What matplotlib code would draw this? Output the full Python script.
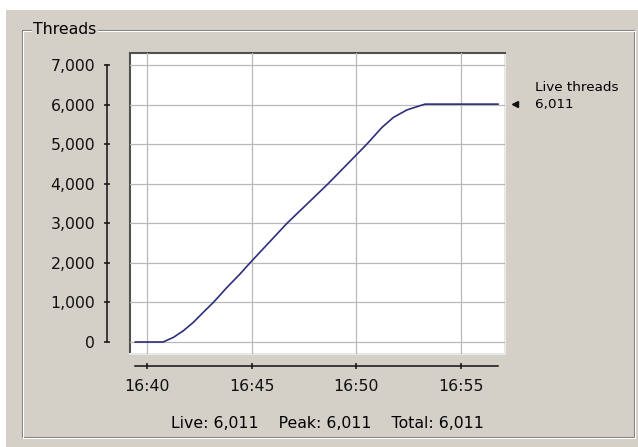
import matplotlib
matplotlib.use("Agg")
import matplotlib.pyplot as plt
import matplotlib.dates as mdates
import matplotlib.transforms as mtransforms
from matplotlib.patches import Rectangle
import pandas as pd

times = ["16:39:26", "16:40:46", "16:41:16", "16:41:44", "16:42:13", "16:42:41",
         "16:43:10", "16:43:49", "16:44:26", "16:44:55", "16:46:41", "16:48:39",
         "16:50:30", "16:51:13", "16:51:46", "16:52:25", "16:53:02", "16:53:17",
         "16:56:46"]
live_threads = [0, 0, 120, 285, 500, 750,
                1000, 1380, 1715, 2000, 3000, 4000,
                5000, 5420, 5675, 5865, 5970, 6011,
                6011]
y_ticks = [0, 1000, 2000, 3000, 4000, 5000, 6000, 7000]
title = "Threads"
live, peak, total = 6011, 6011, 6011

W, H = 638, 447
bg = "#d4d0c8"

t = mdates.date2num(pd.to_datetime(times, format="%H:%M:%S"))

fig = plt.figure(figsize=(W / 100, H / 100), dpi=100, facecolor=bg)
plt.rcParams["font.family"] = "DejaVu Sans"


def px(x0, y0, x1, y1):
    # pixel box (top-left origin) -> figure fraction rect
    return [x0 / W, 1 - y1 / H, (x1 - x0) / W, (y1 - y0) / H]


# white strips at top / left edge of the screenshot
fig.add_artist(Rectangle((0, 1 - 10 / H), 1, 10 / H, transform=fig.transFigure,
                         facecolor="white", edgecolor="none"))
fig.add_artist(Rectangle((0, 0), 6 / W, 1, transform=fig.transFigure,
                         facecolor="white", edgecolor="none"))

# etched group box
for off, col in [(0, "#808080"), (1, "white")]:
    r = px(22 + off, 30 + off, 634 + off, 437 + off)
    fig.add_artist(Rectangle((r[0], r[1]), r[2], r[3], transform=fig.transFigure,
                             facecolor="none", edgecolor=col, lw=0.8))
fig.text(33 / W, 1 - 30 / H, title, fontsize=11.3, va="center", ha="left",
         bbox=dict(facecolor=bg, edgecolor="none", pad=1.0))

pos = px(130, 53, 505, 354)

# sunken white frame
frame = fig.add_axes(pos, facecolor="white", zorder=0)
frame.set_xticks([])
frame.set_yticks([])
for side, col in [("top", "#505050"), ("left", "#505050"),
                  ("right", "#e8e8e8"), ("bottom", "#e8e8e8")]:
    frame.spines[side].set_color(col)
    frame.spines[side].set_linewidth(1.5)

ax = fig.add_axes(pos, zorder=1)
ax.patch.set_alpha(0)
ax.plot(t, live_threads, color="#2e2e7a", lw=1.2, zorder=3)

x_lo, x_hi = mdates.date2num(pd.to_datetime(["16:39:11", "16:57:06"], format="%H:%M:%S"))
ax.set_xlim(x_lo, x_hi)
ax.set_ylim(-303, 7303)
ax.set_yticks(y_ticks)
ax.yaxis.set_major_formatter(plt.FuncFormatter(lambda v, p: f"{int(v):,}"))
ax.xaxis.set_major_locator(mdates.MinuteLocator(byminute=[40, 45, 50, 55]))
ax.xaxis.set_major_formatter(mdates.DateFormatter("%H:%M"))
ax.grid(True, color="#b8b8b8", lw=0.9)
ax.set_axisbelow(True)

ax.spines["top"].set_visible(False)
ax.spines["right"].set_visible(False)
ax.spines["left"].set_position(("outward", 16.5))
ax.spines["bottom"].set_position(("outward", 8.6))
ax.spines["left"].set_bounds(0, 7000)
ax.spines["bottom"].set_bounds(t[0], t[-1])
for s in ["left", "bottom"]:
    ax.spines[s].set_linewidth(1.1)
    ax.spines[s].set_color("#111111")
ax.tick_params(axis="both", direction="inout", length=5, width=1.1,
               labelsize=11.3, colors="#111111")
ax.tick_params(axis="y", pad=6)
ax.tick_params(axis="x", pad=7)

# live value marker on the right
trans = mtransforms.blended_transform_factory(ax.transAxes, ax.transData)
ax.plot([1.0267], [live], marker="<", color="#111111", ms=4.5, transform=trans,
        clip_on=False, ls="none")
ax.text(1.08, live, f"{live:,}", transform=trans, fontsize=9.7, va="center",
        ha="left")
ax.annotate("Live threads", xy=(1.08, live), xycoords=trans,
            xytext=(0, 12.2), textcoords="offset points", fontsize=9.7,
            va="center", ha="left")

fig.text(327 / W, 1 - 423 / H,
         f"Live: {live:,}    Peak: {peak:,}    Total: {total:,}",
         fontsize=11.3, ha="center", va="center")

fig.savefig("out.png", dpi=100, facecolor=bg)
